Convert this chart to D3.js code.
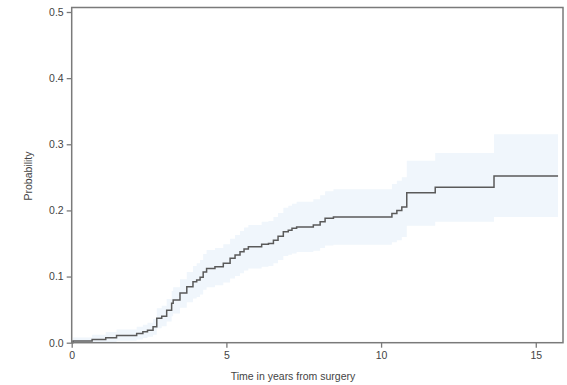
<!DOCTYPE html>
<html lang="en">
<head>
<meta charset="utf-8" />
<title>Cumulative incidence</title>
<script src="https://d3js.org/d3.v7.min.js"></script>
<style>
  body { margin: 0; background: #fff; }
  text { font-family: "Liberation Sans", Arial, sans-serif; fill: #444; }
  .line { fill: none; stroke: #5a5a5a; stroke-width: 1.5px; }
  .band { fill: #f0f6fc; stroke: none; }
</style>
</head>
<body>
<script>
// step times (years) and estimated probability with 95% band
var times = [0, 0.04, 0.66, 1.1, 1.45, 2.1, 2.3, 2.45, 2.63, 2.75, 2.91, 3.07, 3.23, 3.28, 3.5, 3.72, 3.92, 4.04, 4.15, 4.25, 4.36, 4.63, 4.9, 5.12, 5.28, 5.44, 5.57, 5.71, 6.14, 6.36, 6.52, 6.67, 6.84, 7.0, 7.12, 7.27, 7.81, 8.03, 8.19, 8.46, 10.35, 10.51, 10.67, 10.83, 11.75, 13.65, 15.72];
var prob  = [0, 0.0026, 0.005, 0.0075, 0.011, 0.014, 0.0165, 0.019, 0.024, 0.037, 0.040, 0.049, 0.0595, 0.0645, 0.075, 0.0846, 0.092, 0.0947, 0.099, 0.107, 0.112, 0.115, 0.12, 0.1275, 0.1325, 0.1375, 0.1415, 0.145, 0.149, 0.150, 0.155, 0.161, 0.1677, 0.170, 0.173, 0.175, 0.178, 0.183, 0.188, 0.190, 0.1955, 0.2, 0.205, 0.2266, 0.235, 0.252, 0.252];
var lower = [0, 0, 0, 0.001, 0.003, 0.005, 0.007, 0.009, 0.012, 0.022, 0.025, 0.032, 0.04, 0.044, 0.053, 0.061, 0.067, 0.069, 0.073, 0.08, 0.084, 0.087, 0.091, 0.097, 0.101, 0.105, 0.109, 0.112, 0.115, 0.116, 0.12, 0.125, 0.131, 0.133, 0.135, 0.137, 0.139, 0.143, 0.147, 0.148, 0.152, 0.155, 0.16, 0.177, 0.183, 0.19, 0.19];
var upper = [0, 0.008, 0.012, 0.016, 0.02, 0.024, 0.027, 0.03, 0.036, 0.052, 0.056, 0.066, 0.078, 0.084, 0.096, 0.107, 0.116, 0.12, 0.125, 0.134, 0.14, 0.143, 0.149, 0.157, 0.163, 0.169, 0.174, 0.178, 0.183, 0.184, 0.19, 0.196, 0.204, 0.207, 0.21, 0.213, 0.217, 0.223, 0.229, 0.232, 0.24, 0.245, 0.25, 0.275, 0.287, 0.315, 0.315];

var xTicks = [0, 5, 10, 15];
var yTicks = [0.0, 0.1, 0.2, 0.3, 0.4, 0.5];

var W = 567, H = 385;
var margin = {top: 7.5, right: 4, bottom: 42.3, left: 71.7};
var width = W - margin.left - margin.right,
    height = H - margin.top - margin.bottom;

var data = times.map(function(t, i) {
  return {t: t, p: prob[i], lo: lower[i], hi: upper[i]};
});

var x = d3.scaleLinear().domain([0, 15.88]).range([0, width]);
var y = d3.scaleLinear().domain([0, 0.5068]).range([height, 0]);

var svg = d3.select("body").append("svg")
    .attr("width", W)
    .attr("height", H)
  .append("g")
    .attr("transform", "translate(" + margin.left + "," + margin.top + ")");

// confidence band
var band = d3.area()
    .curve(d3.curveStepAfter)
    .x(function(d) { return x(d.t); })
    .y0(function(d) { return y(d.lo); })
    .y1(function(d) { return y(d.hi); });

svg.append("path")
    .datum(data)
    .attr("class", "band")
    .attr("d", band);

// estimate
var line = d3.line()
    .curve(d3.curveStepAfter)
    .x(function(d) { return x(d.t); })
    .y(function(d) { return y(d.p); });

svg.append("path")
    .datum(data)
    .attr("class", "line")
    .attr("d", line);

// frame
svg.append("rect")
    .attr("width", width)
    .attr("height", height)
    .attr("fill", "none")
    .attr("stroke", "#7a7a7a")
    .attr("stroke-width", 1.5);

// axes
var xAxis = svg.append("g")
    .attr("transform", "translate(0," + height + ")")
    .call(d3.axisBottom(x).tickValues(xTicks).tickSize(5).tickPadding(4).tickFormat(d3.format("d")));

var yAxis = svg.append("g")
    .call(d3.axisLeft(y).tickValues(yTicks).tickSize(5).tickPadding(3).tickFormat(d3.format(".1f")));

[xAxis, yAxis].forEach(function(a) {
  a.select(".domain").remove();
  a.selectAll("line").attr("stroke", "#7a7a7a").attr("stroke-width", 1.3);
  a.selectAll("text").attr("font-size", 10.5).style("fill", "#444")
    .style("font-family", "'Liberation Sans', Arial, sans-serif");
});

// axis titles
svg.append("text")
    .attr("x", 293 - margin.left)
    .attr("y", height + 37)
    .attr("text-anchor", "middle")
    .attr("font-size", 10.5)
    .text("Time in years from surgery");

svg.append("text")
    .attr("transform", "translate(" + (32 - margin.left) + "," + (176 - margin.top) + ") rotate(-90)")
    .attr("text-anchor", "middle")
    .attr("font-size", 10.5)
    .text("Probability");
</script>
</body>
</html>
